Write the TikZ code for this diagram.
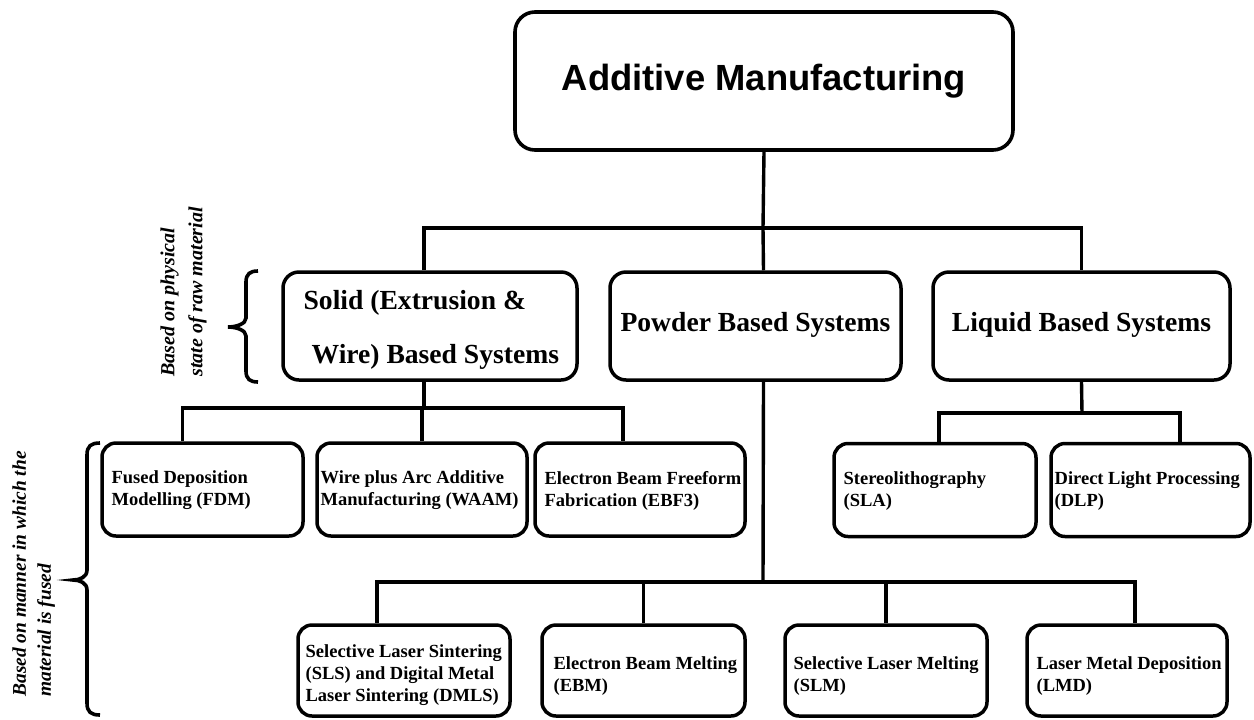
\documentclass[tikz,border=0pt]{standalone}
\usepackage{fontspec}
\setmainfont{Liberation Serif}
\newfontfamily\titlefont{Liberation Sans}
\begin{document}
\begin{tikzpicture}[x=0.5pt,y=-0.5pt,
  conn/.style={line width=1.7pt},
  topbox/.style={draw, line width=1.8pt, rounded corners=10pt, inner sep=0pt},
  midbox/.style={draw, line width=1.75pt, rounded corners=8pt, inner sep=0pt, minimum height=54pt},
  lbox/.style={draw, line width=1.75pt, rounded corners=7pt, inner sep=0pt},
  midtext/.style={font=\bfseries\fontsize{13.8}{27}\selectfont},
  ltext/.style={anchor=west, align=left, inner sep=0pt, font=\bfseries\fontsize{9.25}{11}\selectfont},
  sidetext/.style={rotate=90, anchor=north west, align=left, inner sep=0pt},
  bracepath/.style={line width=1.8pt}]
\fill[white] (0,0) rectangle (1254,719);
\useasboundingbox (0,0) rectangle (1254,719);

% top
\node[topbox, minimum width=249pt, minimum height=69pt, font=\titlefont\bfseries\fontsize{18.2}{22}\selectfont] (am) at (764,81) {\raisebox{3pt}{Additive Manufacturing}};

% level 2
\node[midbox, minimum width=147pt, label={[midtext, anchor=west, align=left, inner sep=0pt, xshift=11pt, yshift=-2pt]west:{Solid (Extrusion \&\\\hspace*{4pt}Wire) Based Systems}}] (solid) at (430,326) {};
\node[midbox, minimum width=145.5pt, midtext] (powder) at (755.5,326) {\raisebox{4pt}{Powder Based Systems}};
\node[midbox, minimum width=148.5pt, midtext] (liquid) at (1081.5,326) {\raisebox{4pt}{Liquid Based Systems}};

% level 3 upper
\node[lbox, minimum width=100.5pt, minimum height=46.5pt, label={[ltext, xshift=5.5pt, yshift=-0.5pt]west:{Fused Deposition\\Modelling (FDM)}}] (fdm) at (202.5,489.5) {};
\node[lbox, minimum width=105pt, minimum height=46.5pt, label={[ltext, xshift=2.5pt, yshift=-0.5pt]west:{Wire plus Arc Additive\\Manufacturing (WAAM)}}] (waam) at (422,489.5) {};
\node[lbox, minimum width=105pt, minimum height=46.5pt, label={[ltext, xshift=5.5pt, yshift=-0.5pt]west:{Electron Beam Freeform\\Fabrication (EBF3)}}] (ebf) at (640,489.5) {};
\node[lbox, minimum width=101pt, minimum height=46.5pt, label={[ltext, xshift=5.5pt, yshift=-0.5pt]west:{Stereolithography\\(SLA)}}] (sla) at (935,490) {};
\node[lbox, minimum width=99.5pt, minimum height=46.5pt, label={[ltext, xshift=2.5pt, yshift=-0.5pt]west:{Direct Light Processing\\(DLP)}}] (dlp) at (1150.5,490) {};

% level 3 lower
\node[lbox, minimum width=106pt, minimum height=45.5pt, label={[ltext, xshift=4.5pt, yshift=-2.3pt]west:{Selective Laser Sintering\\(SLS) and Digital Metal\\Laser Sintering (DMLS)}}] (sls) at (404,670.5) {};
\node[lbox, minimum width=101.5pt, minimum height=45.5pt, label={[ltext, xshift=6.5pt, yshift=-2.6pt]west:{Electron Beam Melting\\(EBM)}}] (ebm) at (643.5,670.5) {};
\node[lbox, minimum width=101pt, minimum height=45.5pt, label={[ltext, xshift=5pt, yshift=-2.6pt]west:{Selective Laser Melting\\(SLM)}}] (slm) at (886,670.5) {};
\node[lbox, minimum width=100pt, minimum height=45.5pt, label={[ltext, xshift=5.5pt, yshift=-2.6pt]west:{Laser Metal Deposition\\(LMD)}}] (lmd) at (1127,670.5) {};

% connectors
\coordinate (j1) at (763,228);
\draw[conn] (am.south) -- (j1);
\draw[conn] ([xshift=-3pt]solid.north) |- (j1) -| (liquid.north);
\draw[conn] (j1) -- ([xshift=4pt]powder.north);

\coordinate (j2) at (424,408);
\draw[conn] ([xshift=-3pt]solid.south) -- (j2);
\draw[conn] ([xshift=-10pt]fdm.north) |- (j2) -| ([xshift=-8.5pt]ebf.north);
\draw[conn] (waam.north) -- (waam.north |- j2);

\coordinate (j3) at (1082,413);
\draw[conn] (liquid.south) -- (j3);
\draw[conn] ([xshift=2pt]sla.north) |- (j3) -| ([xshift=14.75pt]dlp.north);

\coordinate (j4) at (763,582);
\draw[conn] ([xshift=4pt]powder.south) -- (j4);
\draw[conn] ([xshift=-13.5pt]sls.north) |- (j4) -| ([xshift=4pt]lmd.north);
\draw[conn] (ebm.north) -- (ebm.north |- j4);
\draw[conn] (slm.north) -- (slm.north |- j4);

% braces
\draw[bracepath] (258,271) .. controls (250,271) and (246,274) .. (246,282) -- (246,318)
  .. controls (246,324) and (236,327) .. (228,327)
  .. controls (236,327) and (246,330) .. (246,336) -- (246,371)
  .. controls (246,379) and (250,382) .. (258,382);
\draw[bracepath] (100,443) .. controls (91,443) and (87,446) .. (87,455) -- (87,570)
  .. controls (87,577) and (80,580) .. (73,580)
  .. controls (80,580) and (87,583) .. (87,590) -- (87,703)
  .. controls (87,712) and (91,715) .. (100,715);

% side texts
\node[sidetext, font=\bfseries\itshape\fontsize{10}{14}\selectfont] (st1) at (160,377) {Based on physical\\state of raw material};
\node[sidetext, font=\bfseries\itshape\fontsize{9.7}{12.5}\selectfont] (st2) at (12,697) {Based on manner in which the\\material is fused};
\end{tikzpicture}
\end{document}
